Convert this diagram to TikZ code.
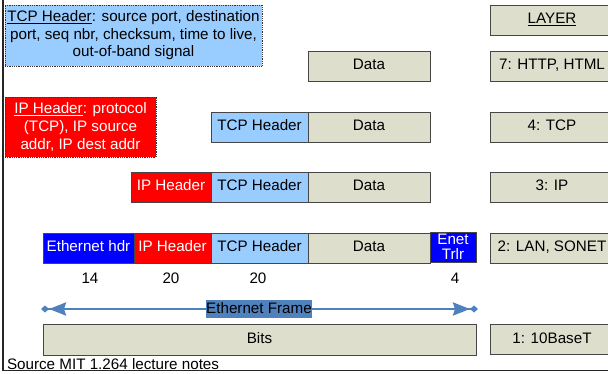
\documentclass[tikz,border=0pt]{standalone}
\usepackage{fontspec}
\setmainfont{Liberation Sans}
\usetikzlibrary{arrows.meta}
\definecolor{beige}{RGB}{221,222,204}
\definecolor{ltblue}{RGB}{153,204,255}
\definecolor{frameblue}{RGB}{79,129,189}
\definecolor{edgegray}{RGB}{70,70,70}
\begin{document}
\begin{tikzpicture}[x=1pt,y=-1pt,
  every node/.style={font=\fontsize{15.2}{17.5}\selectfont, inner sep=0pt, outer sep=0pt},
  cell/.style={draw=edgegray, line width=0.9pt, minimum height=30pt, align=center, text height=11pt, text depth=3pt},
  beigecell/.style={cell, fill=beige},
  tcpcell/.style={cell, fill=ltblue, minimum width=97pt},
  ipcell/.style={cell, fill=red, text=white},
  datacell/.style={cell, fill=beige, minimum width=122pt},
  layercell/.style={cell, fill=beige, minimum width=124pt},
  note/.style={draw=black!80, densely dotted, line width=0.8pt, align=center},
  num/.style={font=\fontsize{15.2}{17.5}\selectfont}
]
\useasboundingbox (0,0) rectangle (608,374);
\clip (0,0) rectangle (608,374);

% frame lines
\draw[line width=1.3pt, black!85] (3,-1) -- (3,370.5) -- (609,370.5);

% notes
\node[note, fill=ltblue, minimum width=257pt, minimum height=61pt] (tcpnote) at (133.5,35.5)
  {\underline{TCP Header}: source port, destination\\port, seq nbr, checksum, time to live,\\out-of-band signal};
\node[note, fill=red, text=white, minimum width=151pt, minimum height=60pt, font=\fontsize{15.2}{18}\selectfont] (ipnote) at (80.5,127)
  {\underline{IP Header}: protocol\\(TCP), IP source\\addr, IP dest addr};

% layer column
\node[layercell] (layer) at (552,20) {\underline{LAYER}};
\node[layercell] (l7) at (552,66) {7: HTTP, HTML};
\node[layercell] (l4) at (552,127) {4: TCP};
\node[layercell] (l3) at (552,187) {3: IP};
\node[layercell] (l2) at (552,248) {2: LAN, SONET};
\node[layercell] (l1) at (552,339.5) {1: 10BaseT};

% row 7
\node[datacell] (d7) at (369,66) {Data};
% row 4
\node[tcpcell] (t4) at (259.5,127) {TCP Header};
\node[datacell] (d4) at (369,127) {Data};
% row 3
\node[ipcell, minimum width=80pt] (i3) at (171,187) {IP Header};
\node[tcpcell] (t3) at (259.5,187) {TCP Header};
\node[datacell] (d3) at (369,187) {Data};
% row 2
\node[cell, fill=blue, text=white, minimum width=91pt] (e2) at (88.5,248) {Ethernet hdr};
\node[ipcell, minimum width=77pt] (i2) at (172.5,248) {IP Header};
\node[tcpcell] (t2) at (259.5,248) {TCP Header};
\node[datacell] (d2) at (369,248) {Data};
\node[cell, fill=blue, text=white, minimum width=46pt, text height=, text depth=,
  font=\fontsize{15.2}{15}\selectfont] (tr2) at (453,247) {Enet\\Trlr};

% sizes
\node[num] (n14) at (90,278) {14};
\node[num] (n20a) at (171,278) {20};
\node[num] (n20b) at (258,278) {20};
\node[num] (n4) at (455,278) {4};

% ethernet frame arrow
\coordinate (fl) at (41,309);
\coordinate (fr) at (478,309);
\draw[frameblue, line width=2.4pt,
  arrows={{Diamond[length=8pt,width=7pt] Stealth[length=17pt,width=13pt,inset=2pt]}-{Stealth[length=17pt,width=13pt,inset=2pt] Diamond[length=8pt,width=7pt]}}]
  (fl) -- (fr);
\node[fill=frameblue, minimum width=104pt, minimum height=18pt, text height=11pt, text depth=3pt] (ef) at (259,309) {Ethernet Frame};

% bits
\node[beigecell, minimum width=433pt, minimum height=31pt] (bits) at (259.5,339.5) {Bits};

% source
\node[anchor=west] (src) at (7,364) {Source MIT 1.264 lecture notes};
\end{tikzpicture}
\end{document}
